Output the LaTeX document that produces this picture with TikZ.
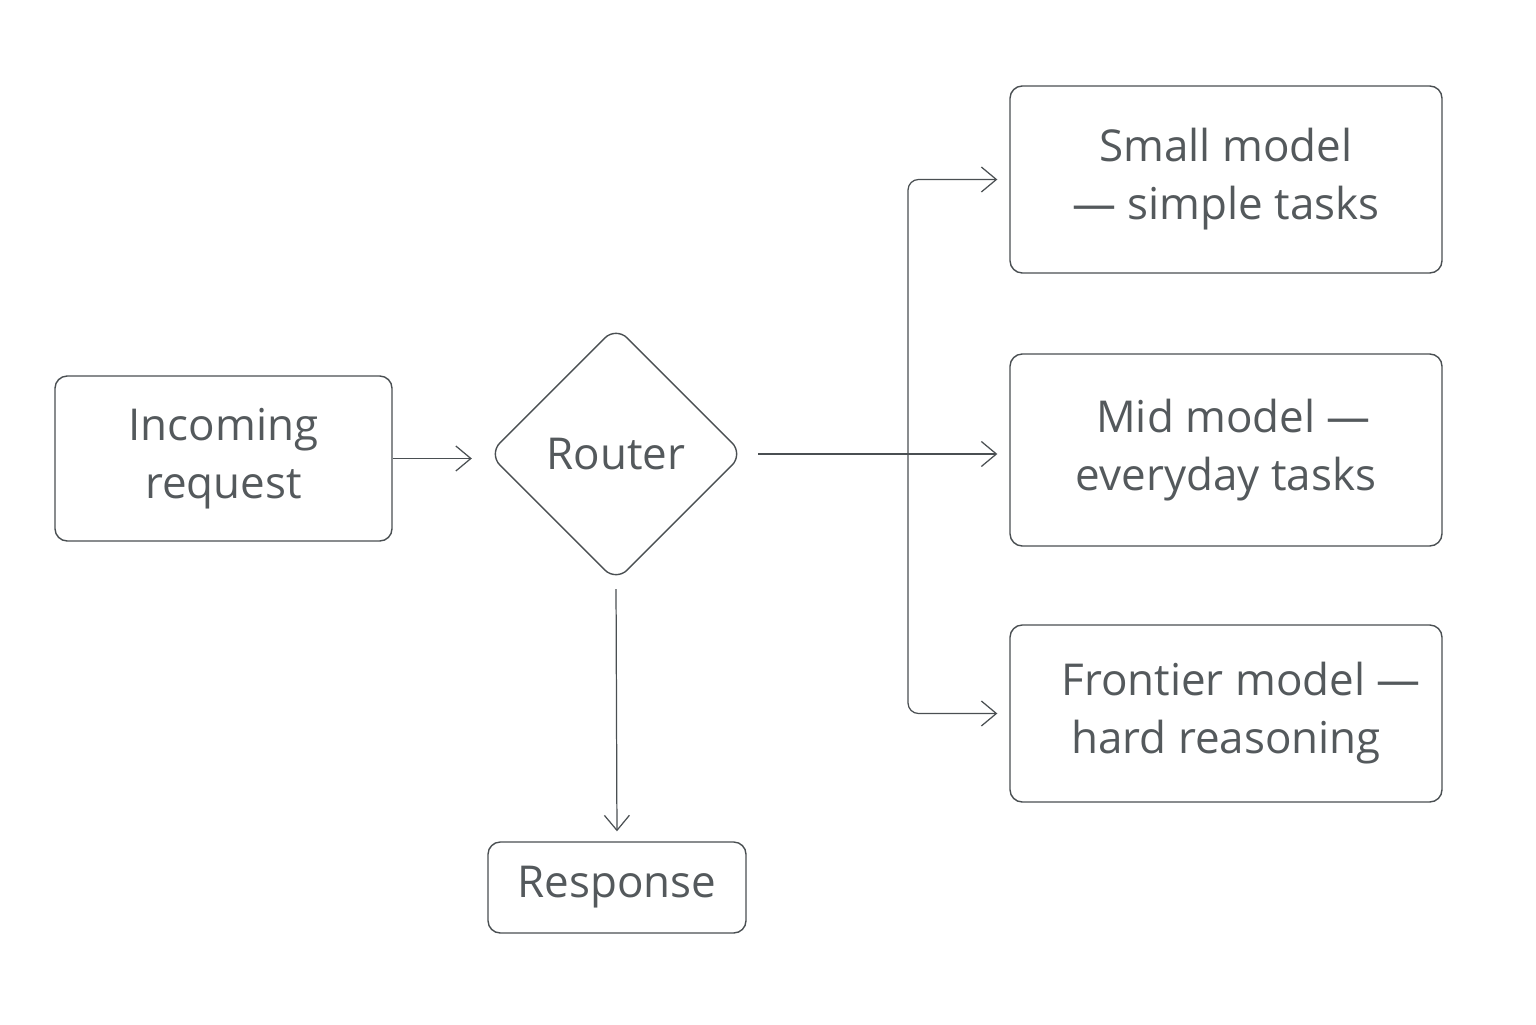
\documentclass[tikz,border=0pt]{standalone}
\usepackage{fontspec}
\setmainfont{Open Sans}
\usetikzlibrary{shapes.geometric, arrows.meta, positioning, calc}
\definecolor{ink}{HTML}{4A4F52}
\definecolor{txt}{HTML}{54595C}

\begin{document}
\begin{tikzpicture}[
    box/.style={draw=ink, line width=0.8pt, rounded corners=7pt, align=center, text=txt, font=\fontsize{25}{33}\selectfont},
    arr/.style={draw=ink, line width=0.7pt, -{Straight Barb[length=3mm, width=5mm]}}
  ]
    \useasboundingbox (0,0) rectangle (30.72,20.48);

    % Eingang und Router
    \node[box, minimum width=6.74cm, minimum height=3.3cm] (req) at (4.47,11.31) {Incoming\\request};
    \node[box, diamond, rounded corners=9pt, minimum width=5.1cm, minimum height=5.1cm, inner sep=0pt] (router) at (12.32,11.40) {Router};
    \node[box, minimum width=5.16cm, minimum height=1.82cm] (resp) at (12.34,2.73) {Response};

    % Modelle
    \node[box, minimum width=8.64cm, minimum height=3.74cm] (small) at (24.52,16.89) {Small model\\— simple tasks};
    \node[box, minimum width=8.64cm, minimum height=3.84cm] (mid) at (24.52,11.48) {\hspace*{0.3cm}Mid model —\\everyday tasks};
    \node[box, minimum width=8.64cm, minimum height=3.54cm] (front) at (24.52,6.21) {\hspace*{0.6cm}Frontier model —\\hard reasoning};

    % Verbindungen
    \draw[arr, shorten >=0.32cm] (req.east) -- (req.east -| router.west);
    \draw[arr, shorten <=0.28cm, shorten >=0.24cm] (router.east) -- (router.east -| mid.west);
    \coordinate (split) at (18.16,11.42);
    \draw[arr, rounded corners=6pt, shorten >=0.24cm] (split) |- (small.west);
    \draw[arr, rounded corners=6pt, shorten >=0.24cm] (split) |- (front.west);
    \draw[arr, shorten <=0.14cm, shorten >=0.2cm] (router.south) -- (resp.north);
\end{tikzpicture}
\end{document}
